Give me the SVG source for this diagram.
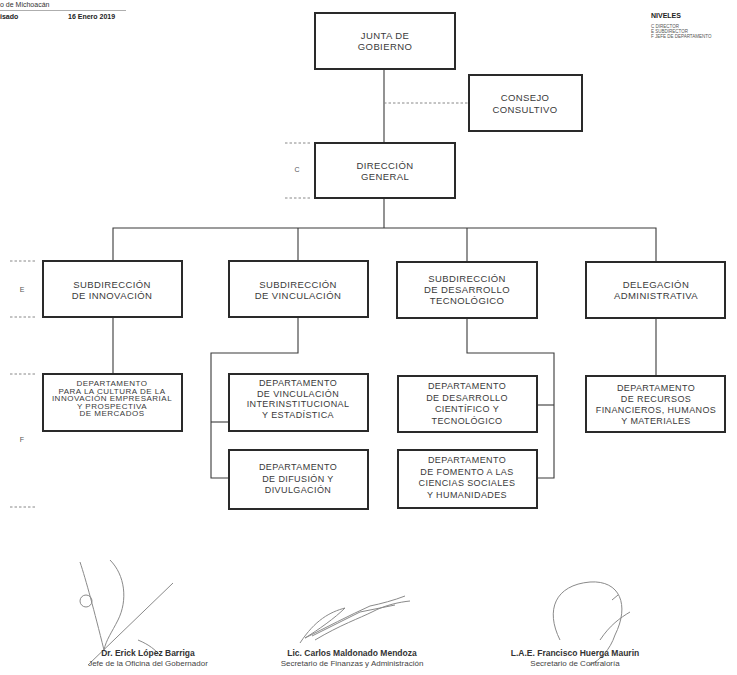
<svg xmlns="http://www.w3.org/2000/svg" width="737" height="675" viewBox="0 0 737 675">
<style>
.box{fill:#fff;stroke:#2a2a2a;stroke-width:2}
.con{fill:none;stroke:#3a3a3a;stroke-width:1.1}
.dash{fill:none;stroke:#888;stroke-width:1;stroke-dasharray:2.5 2}
.t{font-family:"Liberation Sans",Arial,sans-serif;font-size:9.5px;fill:#3a3a3a;text-anchor:middle;letter-spacing:0.4px}
.d{font-family:"Liberation Sans",Arial,sans-serif;font-size:9px;fill:#3a3a3a;text-anchor:middle;letter-spacing:0.4px}
.lv{font-family:"Liberation Sans",Arial,sans-serif;font-size:7px;fill:#555;text-anchor:middle}
.hd{font-family:"Liberation Sans",Arial,sans-serif;font-size:7px;fill:#333}
.hb{font-family:"Liberation Sans",Arial,sans-serif;font-size:7px;fill:#222;font-weight:bold}
.sm{font-family:"Liberation Sans",Arial,sans-serif;font-size:4.5px;fill:#555}
.sn{font-family:"Liberation Sans",Arial,sans-serif;font-size:8.5px;fill:#333;font-weight:bold;text-anchor:middle}
.st{font-family:"Liberation Sans",Arial,sans-serif;font-size:8px;fill:#444;text-anchor:middle}
.sig{fill:none;stroke:#8a8a8a;stroke-width:1}
</style>

<g id="header">
<text class="hd" x="0" y="7">o de Michoacán</text>
<line x1="0" y1="10.5" x2="126" y2="10.5" stroke="#999" stroke-width="0.8"/>
<text class="hb" x="0" y="19">isado</text>
<text class="hb" x="68" y="19">16 Enero 2019</text>
<text class="hb" x="651" y="18">NIVELES</text>
<text class="sm" x="651" y="28">C  DIRECTOR</text>
<text class="sm" x="651" y="33">E  SUBDIRECTOR</text>
<text class="sm" x="651" y="38">F  JEFE DE DEPARTAMENTO</text>
</g>

<g id="levels">
<line class="dash" x1="285" y1="143" x2="312" y2="143"/>
<text class="lv" x="297" y="172">C</text>
<line class="dash" x1="285" y1="198" x2="312" y2="198"/>
<line class="dash" x1="10" y1="261" x2="35" y2="261"/>
<text class="lv" x="22" y="292">E</text>
<line class="dash" x1="10" y1="317" x2="35" y2="317"/>
<line class="dash" x1="10" y1="374" x2="35" y2="374"/>
<text class="lv" x="22" y="442">F</text>
<line class="dash" x1="10" y1="507" x2="35" y2="507"/>
</g>

<g id="connectors">
<line class="con" x1="384" y1="69" x2="384" y2="143"/>
<line class="dash" x1="384" y1="103" x2="469" y2="103" stroke="#666"/>
<polyline class="con" points="384,198 384,228"/>
<polyline class="con" points="113,261 113,228 656,228 656,262"/>
<line class="con" x1="298" y1="228" x2="298" y2="261"/>
<line class="con" x1="467" y1="228" x2="467" y2="262"/>
<line class="con" x1="113" y1="317" x2="113" y2="374"/>
<polyline class="con" points="298,317 298,353 211,353 211,478 229,478"/>
<line class="con" x1="211" y1="422" x2="229" y2="422"/>
<polyline class="con" points="467,318 467,353 554,353 554,478 537,478"/>
<line class="con" x1="537" y1="405" x2="554" y2="405"/>
<line class="con" x1="656" y1="318" x2="656" y2="376"/>
</g>

<g id="junta">
<rect class="box" x="315" y="13" width="140" height="56"/>
<text class="t" x="385" y="39">JUNTA DE</text>
<text class="t" x="385" y="50">GOBIERNO</text>
</g>
<g id="consejo">
<rect class="box" x="469" y="75" width="113" height="56"/>
<text class="t" x="525" y="101">CONSEJO</text>
<text class="t" x="525" y="113">CONSULTIVO</text>
</g>
<g id="direccion">
<rect class="box" x="315" y="143" width="140" height="55"/>
<text class="t" x="385" y="169">DIRECCIÓN</text>
<text class="t" x="385" y="180">GENERAL</text>
</g>

<g id="sub-innovacion">
<rect class="box" x="43" y="261" width="139" height="56"/>
<text class="t" x="112" y="288">SUBDIRECCIÓN</text>
<text class="t" x="112" y="299">DE INNOVACIÓN</text>
</g>
<g id="sub-vinculacion">
<rect class="box" x="229" y="261" width="139" height="56"/>
<text class="t" x="298" y="288">SUBDIRECCIÓN</text>
<text class="t" x="298" y="299">DE VINCULACIÓN</text>
</g>
<g id="sub-desarrollo">
<rect class="box" x="397" y="262" width="140" height="56"/>
<text class="t" x="467" y="282">SUBDIRECCIÓN</text>
<text class="t" x="467" y="293">DE DESARROLLO</text>
<text class="t" x="467" y="304">TECNOLÓGICO</text>
</g>
<g id="delegacion">
<rect class="box" x="586" y="262" width="139" height="56"/>
<text class="t" x="656" y="288">DELEGACIÓN</text>
<text class="t" x="656" y="299">ADMINISTRATIVA</text>
</g>

<g id="dept-innovacion">
<rect class="box" x="43" y="374" width="139" height="57"/>
<text class="d" x="112" y="386" style="font-size:8px;letter-spacing:0.5px">DEPARTAMENTO</text>
<text class="d" x="112" y="393.5" style="font-size:8px;letter-spacing:0.5px">PARA LA CULTURA DE LA</text>
<text class="d" x="112" y="401" style="font-size:8px;letter-spacing:0.5px">INNOVACIÓN EMPRESARIAL</text>
<text class="d" x="112" y="408.5" style="font-size:8px;letter-spacing:0.5px">Y PROSPECTIVA</text>
<text class="d" x="112" y="416" style="font-size:8px;letter-spacing:0.5px">DE MERCADOS</text>
</g>
<g id="dept-vinculacion">
<rect class="box" x="229" y="374" width="139" height="57"/>
<text class="d" x="298" y="386">DEPARTAMENTO</text>
<text class="d" x="298" y="396.5">DE VINCULACIÓN</text>
<text class="d" x="298" y="407">INTERINSTITUCIONAL</text>
<text class="d" x="298" y="417.5">Y ESTADÍSTICA</text>
</g>
<g id="dept-difusion">
<rect class="box" x="229" y="450" width="139" height="59"/>
<text class="d" x="298" y="470">DEPARTAMENTO</text>
<text class="d" x="298" y="481.5">DE DIFUSIÓN Y</text>
<text class="d" x="298" y="493">DIVULGACIÓN</text>
</g>
<g id="dept-cientifico">
<rect class="box" x="398" y="376" width="139" height="56"/>
<text class="d" x="467" y="389">DEPARTAMENTO</text>
<text class="d" x="467" y="400.5">DE DESARROLLO</text>
<text class="d" x="467" y="412">CIENTÍFICO Y</text>
<text class="d" x="467" y="423.5">TECNOLÓGICO</text>
</g>
<g id="dept-fomento">
<rect class="box" x="398" y="450" width="139" height="58"/>
<text class="d" x="467" y="463">DEPARTAMENTO</text>
<text class="d" x="467" y="474.5">DE FOMENTO A LAS</text>
<text class="d" x="467" y="486">CIENCIAS SOCIALES</text>
<text class="d" x="467" y="497.5">Y HUMANIDADES</text>
</g>
<g id="dept-recursos">
<rect class="box" x="586" y="376" width="139" height="56"/>
<text class="d" x="656" y="391">DEPARTAMENTO</text>
<text class="d" x="656" y="402">DE RECURSOS</text>
<text class="d" x="656" y="413">FINANCIEROS, HUMANOS</text>
<text class="d" x="656" y="424">Y MATERIALES</text>
</g>

<g id="signatures">
<path class="sig" d="M80,562 C86,580 94,610 104,650 M110,560 C125,575 128,600 118,620 C112,632 106,640 104,650"/>
<circle class="sig" cx="86" cy="601" r="6"/>
<path class="sig" d="M88,665 L173,583"/>
<path class="sig" d="M138,640 C150,645 155,650 160,655"/>
<path class="sig" d="M300,643 C315,620 330,612 345,608 C335,618 318,630 305,638 C325,628 350,615 370,606 C380,604 395,600 405,596 M315,640 C340,625 360,618 372,612 C385,605 400,602 410,601 M312,636 L360,612 L395,605"/>
<path class="sig" d="M560,640 C545,610 555,585 590,582 C620,580 630,605 615,635 C610,650 600,660 590,665 M600,640 C610,625 620,618 630,612 M612,600 L618,595"/>
<text class="sn" x="148" y="656">Dr. Erick López Barriga</text>
<text class="st" x="148" y="666">Jefe de la Oficina del Gobernador</text>
<text class="sn" x="352" y="656">Lic. Carlos Maldonado Mendoza</text>
<text class="st" x="352" y="666">Secretario de Finanzas y Administración</text>
<text class="sn" x="575" y="656">L.A.E. Francisco Huerga Maurin</text>
<text class="st" x="575" y="666">Secretario de Contraloría</text>
</g>
</svg>
